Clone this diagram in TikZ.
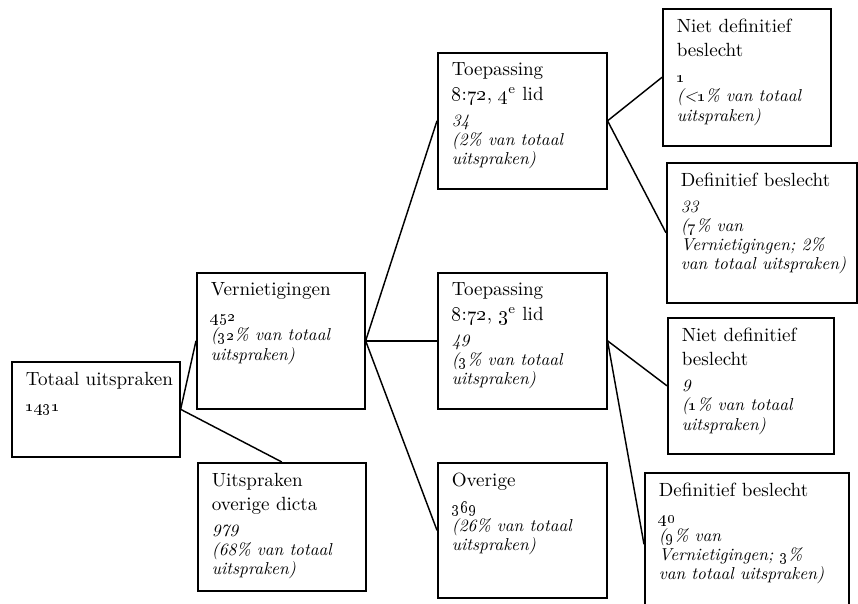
\documentclass[tikz,border=0pt]{standalone}
\usepackage{tikz}
\newcommand\vak[4]{\parbox[c][#2][t]{#1}{\fontsize{10.5}{13.5}\selectfont\raggedright #3\par\vspace{3.8pt}%
  {\fontsize{9.5}{10.5}\selectfont\itshape #4\par}}}
\tikzset{blok/.style={draw,line width=0.9pt,anchor=north west,inner xsep=7.7pt,inner ysep=5.5pt}}

\begin{document}
\begin{tikzpicture}[x=0.55pt,y=-0.55pt,line width=0.8pt]
 \useasboundingbox (0,0) rectangle (858,604);
 \draw (11,361) node[blok] (totaal) {\vak{77pt}{41.25pt}{\mbox{Totaal uitspraken}}{\oldstylenums{1431}}};
  \draw (196,272) node[blok] (vern) {\vak{77pt}{63.8pt}{Vernietigingen}{\oldstylenums{452}\\(\oldstylenums{32}\% van totaal\\uitspraken)}};
  \draw (197,462) node[blok] (uitspr) {\vak{77pt}{59.4pt}{Uitspraken\\overige dicta}{979\\(68\% van totaal\\uitspraken)}};
      \draw (437,52) node[blok] (toep4) {\vak{77.5pt}{63.8pt}{Toepassing\\\oldstylenums{8}:\oldstylenums{72}, \oldstylenums{4}\textsuperscript{e} lid}{34\\(2\% van totaal\\uitspraken)}};
      \draw (437,272) node[blok] (toep3) {\vak{77.5pt}{63.8pt}{Toepassing\\\oldstylenums{8}:\oldstylenums{72}, \oldstylenums{3}\textsuperscript{e} lid}{49\\(\oldstylenums{3}\% van totaal\\uitspraken)}};
      \draw (437,462) node[blok] (overige) {\vak{77.5pt}{63.25pt}{Overige}{\oldstylenums{369}\\(26\% van totaal\\uitspraken)}};
 \draw (662,8) node[blok] (niet1) {\vak{77pt}{64.35pt}{Niet definitief\\beslecht}{\oldstylenums{1}\\(<\oldstylenums{1}\% van totaal\\uitspraken)}};
 \draw (666,162) node[blok] (def33) {\vak{89.1pt}{66pt}{\mbox{Definitief beslecht}}{33\\(\oldstylenums{7}\% van\\Vernietigingen; 2\%\\\mbox{van totaal uitspraken)}}};
 \draw (667,317) node[blok] (niet9) {\vak{75.9pt}{63.8pt}{Niet definitief\\beslecht}{9\\(\oldstylenums{1}\% van totaal\\uitspraken)}};
 \draw (644,472) node[blok] (def40) {\vak{96.8pt}{67.65pt}{\mbox{Definitief beslecht}}{\oldstylenums{40}\\(\oldstylenums{9}\% van\\Vernietigingen; \oldstylenums{3}\%\\\mbox{van totaal uitspraken)}}};
     \path[-] (totaal.east) edge (vern.west);
     \path[-] (totaal.east) edge (uitspr.north);
     \path[-] (vern.east) edge (toep4.west);
     \path[-] (vern.east) edge (toep3.west);
     \path[-] (vern.east) edge (overige.west);
     \path[-] (toep4.east) edge (niet1.west);
     \path[-] (toep4.east) edge (def33.west);
     \path[-] (toep3.east) edge (niet9.west);
     \path[-] (toep3.east) edge (def40.west);
\end{tikzpicture}
\end{document}
